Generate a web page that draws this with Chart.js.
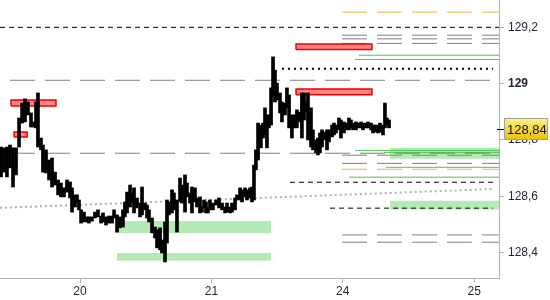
<!DOCTYPE html>
<html>
<head>
<meta charset="utf-8">
<script src="https://cdn.jsdelivr.net/npm/chart.js@4.4.1/dist/chart.umd.min.js"></script>
<style>
  html, body { margin: 0; padding: 0; background: #fff; }
  #wrap { width: 550px; height: 300px; }
</style>
</head>
<body>
<div id="wrap"><canvas id="priceChart" width="550" height="300"></canvas></div>
<script>
const dayLabels = ['20', '21', '24', '25'];
const yTicks = [128.4, 128.6, 128.8, 129, 129.2];
const xMin = -0.609, xMax = 3.189;     // trading days, 0 = the 20th
const yMin = 128.310, yMax = 129.297;
const lastPrice = 128.84;

// price bars: time (trading days), high, low
const barTimes = [
  -0.601, -0.578, -0.556, -0.533, -0.510, -0.487, -0.464, -0.441, -0.419, -0.396,
  -0.373, -0.350, -0.335, -0.320, -0.297, -0.282, -0.259, -0.236, -0.213, -0.190,
  -0.167, -0.145, -0.122, -0.099, -0.076, -0.061, -0.038, -0.023, -0.008, 0.008,
  0.030, 0.053, 0.068, 0.091, 0.114, 0.137, 0.160, 0.175, 0.198, 0.221,
  0.244, 0.259, 0.282, 0.304, 0.327, 0.342, 0.358, 0.381, 0.396, 0.411,
  0.434, 0.457, 0.472, 0.495, 0.510, 0.525, 0.548, 0.571, 0.586, 0.609,
  0.624, 0.647, 0.662, 0.677, 0.700, 0.715, 0.738, 0.761, 0.776, 0.799,
  0.814, 0.837, 0.852, 0.875, 0.890, 0.913, 0.928, 0.944, 0.959, 0.974,
  0.989, 1.012, 1.035, 1.058, 1.081, 1.104, 1.119, 1.142, 1.157, 1.180,
  1.195, 1.218, 1.233, 1.256, 1.271, 1.294, 1.309, 1.324, 1.339, 1.355,
  1.377, 1.393, 1.408, 1.423, 1.438, 1.454, 1.469, 1.484, 1.499, 1.522,
  1.537, 1.560, 1.575, 1.591, 1.613, 1.629, 1.651, 1.667, 1.689, 1.705,
  1.720, 1.735, 1.758, 1.773, 1.796, 1.811, 1.826, 1.842, 1.865, 1.880,
  1.895, 1.918, 1.933, 1.948, 1.971, 1.986, 2.009, 2.024, 2.047, 2.062,
  2.078, 2.100, 2.116, 2.139, 2.154, 2.177, 2.192, 2.215, 2.230, 2.245,
  2.268, 2.283, 2.306, 2.321, 2.336, 2.352
];
const barHighs = [
  128.775, 128.772, 128.775, 128.782, 128.772, 128.772, 128.878, 128.931, 128.946, 128.935,
  128.896, 128.864, 128.935, 128.967, 128.807, 128.782, 128.765, 128.729, 128.736, 128.686,
  128.658, 128.647, 128.630, 128.658, 128.651, 128.630, 128.605, 128.605, 128.587, 128.552,
  128.544, 128.527, 128.527, 128.527, 128.544, 128.552, 128.530, 128.541, 128.527, 128.530,
  128.530, 128.552, 128.534, 128.527, 128.552, 128.580, 128.615, 128.640, 128.612, 128.630,
  128.594, 128.576, 128.633, 128.576, 128.569, 128.552, 128.523, 128.491, 128.481, 128.488,
  128.445, 128.509, 128.587, 128.580, 128.623, 128.612, 128.587, 128.665, 128.640, 128.676,
  128.647, 128.612, 128.633, 128.630, 128.594, 128.598, 128.562, 128.587, 128.580, 128.559,
  128.587, 128.576, 128.587, 128.594, 128.576, 128.562, 128.576, 128.562, 128.576, 128.594,
  128.605, 128.630, 128.623, 128.630, 128.623, 128.630, 128.633, 128.711, 128.765, 128.860,
  128.853, 128.860, 128.914, 128.889, 128.889, 128.985, 129.095, 129.048, 129.002, 128.967,
  128.935, 128.931, 128.985, 128.960, 128.889, 128.889, 128.907, 128.899, 128.967, 128.967,
  128.935, 128.967, 128.914, 128.836, 128.800, 128.807, 128.825, 128.836, 128.828, 128.836,
  128.836, 128.853, 128.860, 128.853, 128.878, 128.871, 128.864, 128.860, 128.878, 128.871,
  128.860, 128.864, 128.860, 128.864, 128.860, 128.860, 128.864, 128.860, 128.853, 128.853,
  128.853, 128.860, 128.853, 128.931, 128.878, 128.871
];
const barLows = [
  128.669, 128.686, 128.669, 128.701, 128.633, 128.676, 128.775, 128.860, 128.864, 128.889,
  128.846, 128.846, 128.843, 128.775, 128.765, 128.686, 128.683, 128.658, 128.633, 128.640,
  128.605, 128.598, 128.598, 128.615, 128.594, 128.544, 128.562, 128.580, 128.552, 128.505,
  128.509, 128.509, 128.505, 128.512, 128.523, 128.527, 128.505, 128.509, 128.498, 128.505,
  128.505, 128.523, 128.473, 128.488, 128.491, 128.527, 128.541, 128.562, 128.580, 128.541,
  128.559, 128.527, 128.534, 128.552, 128.523, 128.509, 128.470, 128.452, 128.417, 128.410,
  128.399, 128.367, 128.434, 128.534, 128.541, 128.552, 128.473, 128.580, 128.576, 128.544,
  128.598, 128.576, 128.541, 128.580, 128.562, 128.541, 128.544, 128.559, 128.541, 128.541,
  128.552, 128.552, 128.569, 128.559, 128.552, 128.541, 128.544, 128.541, 128.544, 128.552,
  128.587, 128.587, 128.580, 128.598, 128.587, 128.594, 128.580, 128.587, 128.694, 128.729,
  128.772, 128.807, 128.818, 128.772, 128.843, 128.853, 128.953, 128.935, 128.942, 128.896,
  128.864, 128.889, 128.914, 128.843, 128.807, 128.843, 128.843, 128.864, 128.807, 128.871,
  128.899, 128.800, 128.775, 128.765, 128.754, 128.747, 128.754, 128.775, 128.800, 128.765,
  128.793, 128.811, 128.818, 128.825, 128.836, 128.807, 128.825, 128.836, 128.836, 128.843,
  128.836, 128.836, 128.843, 128.843, 128.836, 128.843, 128.843, 128.836, 128.825, 128.828,
  128.825, 128.828, 128.818, 128.843, 128.853, 128.843
];

// horizontal levels
const blackDashLevels = [129.2, 128.650, 128.558];
const blackDashStarts = [xMin, 1.598, 1.903];
const blackDashEnds = [xMax, 3.143, 3.143];
const dottedLevel = 129.053, dottedStart = 1.537, dottedEnd = 3.143;
const grayDashLevels = [129.172, 129.159, 129.143, 128.746, 128.717, 128.463, 128.437];
const grayDashStart = 1.994;
const longDashLevels = [129.012, 128.753];
const longDashStart = -0.533, longDashEnd = 3.120;
const orangeLevels = [129.254, 128.696];
const orangeStart = 1.994;
const greenLevels = [129.101, 129.086, 128.763, 128.756, 128.703, 128.668];
const greenStarts = [2.123, 2.093, 2.093, 2.314, 2.329, 2.047];
const trendFrom = [xMin, 128.559];
const trendTo = [3.143, 128.626];

// zones: [from, to, low, high]
const redZones = [
  [-0.525, -0.183, 128.921, 128.942],
  [-0.502, -0.403, 128.811, 128.828],
  [1.644, 2.222, 129.121, 129.141],
  [1.644, 2.222, 128.961, 128.981]
];
const greenZones = [
  [0.266, 1.454, 128.470, 128.512],
  [0.282, 1.454, 128.371, 128.399],
  [2.359, xMax, 128.733, 128.772],
  [2.359, xMax, 128.553, 128.584]
];

const FONT = '"Liberation Sans", Arial, sans-serif';

function formatPrice(v, d) {
    if (Math.abs(v - Math.round(v)) < 1e-9 && d === 1) return String(Math.round(v));
    return v.toFixed(d).replace('.', ',');
}

function level(x0, x1, y, color, dash, width) {
    return {
        type: 'line',
        data: [{ x: x0, y: y }, { x: x1, y: y }],
        borderColor: color,
        borderWidth: width || 1,
        borderDash: dash || [],
        pointRadius: 0,
        fill: false,
        tension: 0,
        order: 2
    };
}

function zone(z, fillColor, lineColor) {
    return {
        type: 'line',
        data: [
            { x: z[0], y: z[2] }, { x: z[0], y: z[3] },
            { x: z[1], y: z[3] }, { x: z[1], y: z[2] }, { x: z[0], y: z[2] }
        ],
        backgroundColor: fillColor,
        borderColor: lineColor || 'transparent',
        borderWidth: lineColor ? 1.5 : 0,
        pointRadius: 0,
        fill: 'shape',
        tension: 0,
        order: lineColor ? 1 : 3
    };
}

const datasets = [];

datasets.push({
    type: 'bar',
    data: barTimes.map((t, i) => ({ x: t, y: [barLows[i], barHighs[i]] })),
    backgroundColor: '#000',
    barThickness: 3,
    order: 0
});

greenZones.forEach(z => datasets.push(zone(z, '#b5e9b5')));
redZones.forEach(z => datasets.push(zone(z, '#ff8585', '#ee0000')));

longDashLevels.forEach(v => datasets.push(level(longDashStart, longDashEnd, v, '#808080', [25, 10])));
grayDashLevels.forEach(v => datasets.push(level(grayDashStart, xMax, v, '#808080', [25, 10])));
orangeLevels.forEach(v => datasets.push(level(orangeStart, xMax, v, '#f2b632', [25, 10])));
greenLevels.forEach((v, i) => datasets.push(level(greenStarts[i], xMax, v, '#4cc54c')));
blackDashLevels.forEach((v, i) => datasets.push(level(blackDashStarts[i], blackDashEnds[i], v, '#000', [5, 4])));
datasets.push(level(dottedStart, dottedEnd, dottedLevel, '#000', [2, 4], 2));
datasets.push({
    type: 'line',
    data: [{ x: trendFrom[0], y: trendFrom[1] }, { x: trendTo[0], y: trendTo[1] }],
    borderColor: '#b0b0b0',
    borderWidth: 2,
    borderDash: [2, 3],
    pointRadius: 0,
    fill: false,
    order: 2
});

// yellow tag with the last price on the right axis
const lastPriceTag = {
    id: 'lastPriceTag',
    afterDraw(chart) {
        const { ctx, chartArea, scales: { y } } = chart;
        const py = Math.round(y.getPixelForValue(lastPrice));
        ctx.save();
        ctx.strokeStyle = '#000';
        ctx.lineWidth = 1;
        ctx.beginPath();
        ctx.moveTo(chartArea.right - 2, py + 0.5);
        ctx.lineTo(chartArea.right + 6, py + 0.5);
        ctx.stroke();

        const bx = chartArea.right + 5, bw = 44, bh = 22;
        const grad = ctx.createLinearGradient(0, py - 11, 0, py + 11);
        grad.addColorStop(0, '#fff08c');
        grad.addColorStop(1, '#efc000');
        ctx.fillStyle = grad;
        ctx.fillRect(bx, py - 11, bw, bh);
        ctx.strokeStyle = '#a0a0a0';
        ctx.strokeRect(bx + 0.5, py - 10.5, bw - 1, bh - 1);

        ctx.fillStyle = '#111';
        ctx.font = '13px ' + FONT;
        ctx.textBaseline = 'middle';
        ctx.fillText(formatPrice(lastPrice, 2), bx + 3, py + 1);
        ctx.restore();
    }
};

new Chart(document.getElementById('priceChart').getContext('2d'), {
    type: 'bar',
    data: { datasets: datasets },
    options: {
        responsive: false,
        animation: false,
        layout: { padding: 0 },
        plugins: {
            legend: { display: false },
            tooltip: { enabled: false }
        },
        scales: {
            x: {
                type: 'linear',
                min: xMin,
                max: xMax,
                offset: false,
                grid: { drawOnChartArea: false, offset: false, tickLength: 5, color: '#b4b4b4' },
                border: { color: '#b4b4b4' },
                afterBuildTicks: s => { s.ticks = dayLabels.map((_, i) => ({ value: i })); },
                afterFit: s => { s.height = 22; s.paddingLeft = 0; s.paddingRight = 0; },
                ticks: {
                    autoSkip: false,
                    maxRotation: 0,
                    padding: 1,
                    color: '#1c2433',
                    font: { family: FONT, size: 12 },
                    callback: v => dayLabels[v]
                }
            },
            y: {
                position: 'right',
                min: yMin,
                max: yMax,
                grid: { drawOnChartArea: false, tickLength: 5, color: '#b4b4b4' },
                border: { color: '#b4b4b4' },
                afterBuildTicks: s => { s.ticks = yTicks.map(v => ({ value: v })); },
                afterFit: s => { s.width = 51; s.paddingTop = 0; s.paddingBottom = 0; },
                ticks: {
                    padding: 4,
                    color: '#1c2433',
                    font: c => ({
                        family: FONT,
                        size: 12,
                        weight: c.tick && Number.isInteger(c.tick.value) ? 'bold' : 'normal'
                    }),
                    callback: v => formatPrice(v, 1)
                }
            }
        }
    },
    plugins: [lastPriceTag]
});
</script>
</body>
</html>
